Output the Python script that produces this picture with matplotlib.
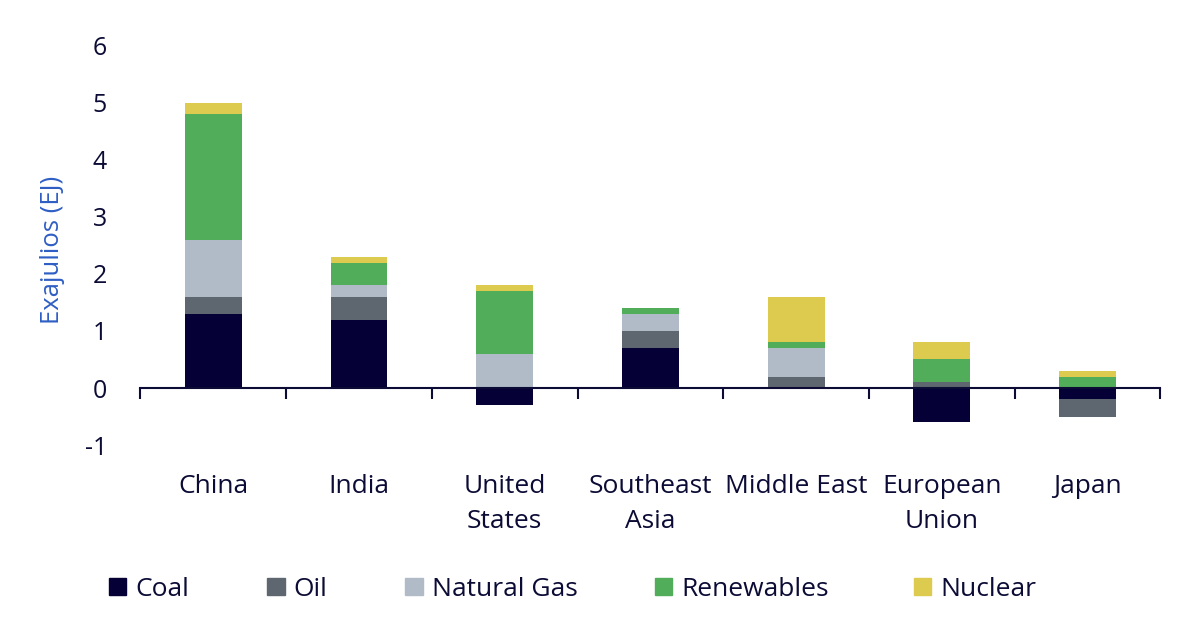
import numpy as np
import matplotlib.pyplot as plt
from matplotlib.patches import Patch

plt.rcParams['font.family'] = ['Open Sans', 'DejaVu Sans']
plt.rcParams['axes.unicode_minus'] = False

regions = ['China', 'India', 'United\nStates', 'Southeast\nAsia', 'Middle East', 'European\nUnion', 'Japan']
coal = [1.3, 1.2, -0.3, 0.7, 0.0, -0.6, -0.2]
oil = [0.3, 0.4, 0.0, 0.3, 0.2, 0.1, -0.3]
gas = [1.0, 0.2, 0.6, 0.3, 0.5, 0.0, 0.0]
renewables = [2.2, 0.4, 1.1, 0.1, 0.1, 0.4, 0.2]
nuclear = [0.2, 0.1, 0.1, 0.0, 0.8, 0.3, 0.1]

series = [('Coal', coal, '#050035'), ('Oil', oil, '#5e676f'), ('Natural Gas', gas, '#b0bbc7'),
          ('Renewables', renewables, '#52ad5b'), ('Nuclear', nuclear, '#dccb4e')]

dark = '#0b0b35'
fig = plt.figure(figsize=(12, 6.29), dpi=100)
ax = fig.add_axes([0.117, 0.2925, 0.85, 0.6345])

x = np.arange(len(regions))
pos_base = np.zeros(len(regions))
neg_base = np.zeros(len(regions))
for name, vals, col in series:
    v = np.array(vals)
    base = np.where(v >= 0, pos_base, neg_base)
    ax.bar(x, v, 0.39, bottom=base, color=col, label=name, zorder=2)
    pos_base = pos_base + np.where(v > 0, v, 0)
    neg_base = neg_base + np.where(v < 0, v, 0)

ax.set_xlim(-0.5, len(regions) - 0.5)
ax.set_ylim(-1, 6)
ax.set_yticks(range(-1, 7))
ax.tick_params(axis='y', length=0, pad=24, labelsize=18, labelcolor=dark)

for s in ['top', 'right', 'left']:
    ax.spines[s].set_visible(False)
ax.spines['bottom'].set_position(('data', 0))
ax.spines['bottom'].set_color(dark)
ax.spines['bottom'].set_linewidth(1.5)
ax.spines['bottom'].set_zorder(3)

ax.set_xticks(x)
ax.set_xticklabels(regions, fontsize=19, color=dark, linespacing=1.5)
ax.tick_params(axis='x', which='major', length=0, pad=62)
ax.set_xticks(np.arange(len(regions) + 1) - 0.5, minor=True)
ax.tick_params(axis='x', which='minor', length=8, width=1.5, color=dark, direction='out')

ax.set_ylabel('Exajulios (EJ)', fontsize=18.5, color='#2f5ec4')
ax.yaxis.set_label_coords(-0.0735, 0.489)

legend_x = [0.0817, 0.214, 0.329, 0.537, 0.7525]
for (name, vals, col), lx in zip(series, legend_x):
    fig.legend(handles=[Patch(color=col)], labels=[name], loc='center left',
               bbox_to_anchor=(lx, 0.063), frameon=False, fontsize=19,
               handlelength=0.65, handleheight=0.65, handletextpad=0.35, borderaxespad=0,
               labelcolor=dark)

fig.savefig('out.png', dpi=100)
